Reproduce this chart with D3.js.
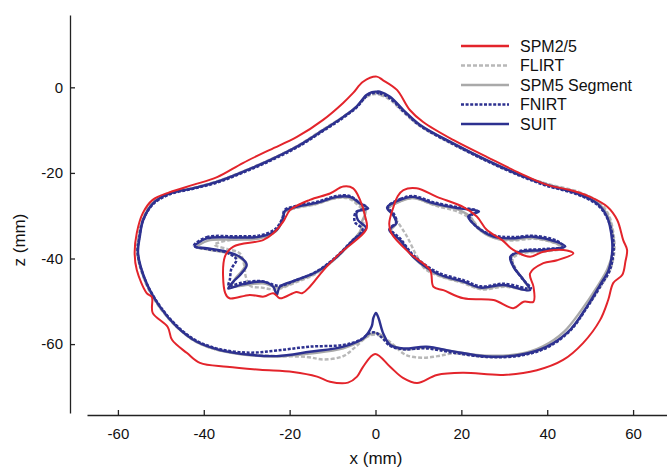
<!DOCTYPE html>
<html>
<head>
<meta charset="utf-8">
<script src="https://cdn.jsdelivr.net/npm/d3@7"></script>
<style>
body { margin: 0; background: #fff; }
text { font-family: "Liberation Sans", Arial, sans-serif; fill: #111; }
</style>
</head>
<body>
<script>
// tick labels
const xTicks = [-60, -40, -20, 0, 20, 40, 60];
const zTicks = [0, -20, -40, -60];
const seriesNames = ["SPM2/5", "FLIRT", "SPM5 Segment", "FNIRT", "SUIT"];

// outlines in mm, [x, z]
const spmOuter = [[0.3,2.5],[1.7,1.7],[5.0,-0.6],[8.0,-5.3],[11.1,-8.1],[18.1,-12.3],[26.0,-16.3],[33.7,-20.1],[40.0,-22.8],[45.3,-24.0],[50.0,-25.6],[54.0,-27.9],[56.3,-31.0],[57.7,-35.7],[58.6,-38.0],[58.2,-40.8],[57.5,-43.8],[55.4,-45.7],[54.2,-49.7],[52.3,-54.4],[48.4,-59.7],[43.7,-63.7],[37.6,-66.1],[29.7,-67.2],[20.4,-66.7],[14.3,-67.2],[9.7,-69.1],[6.4,-67.9],[3.4,-65.3],[-0.1,-62.3],[-2.9,-65.3],[-4.3,-67.6],[-6.4,-69.0],[-10.6,-68.8],[-13.6,-67.6],[-19.2,-66.5],[-26.9,-66.0],[-34.6,-65.3],[-40.9,-64.4],[-43.9,-62.1],[-47.4,-59.0],[-48.4,-56.0],[-51.9,-52.7],[-52.1,-49.0],[-53.3,-48.1],[-55.6,-42.7],[-56.1,-38.7],[-55.6,-34.0],[-54.2,-29.4],[-51.9,-26.3],[-47.9,-24.5],[-42.5,-22.8],[-36.9,-21.0],[-30.9,-17.7],[-24.6,-14.6],[-18.3,-11.6],[-12.2,-7.6],[-7.6,-3.7],[-5.2,-1.3],[-2.9,1.3]];
const spmLeft = [[-7.5,-23.2],[-5.2,-23.6],[-3.6,-26.3],[-2.4,-30.2],[-2.1,-33.1],[-8.3,-38.8],[-12.1,-42.7],[-15.3,-46.6],[-17.1,-48.1],[-18.4,-47.8],[-21.1,-49.0],[-22.3,-49.3],[-23.8,-48.1],[-26.0,-48.9],[-29.3,-48.5],[-34.0,-49.3],[-35.0,-48.1],[-35.1,-39.6],[-33.1,-37.2],[-26.2,-35.7],[-23.8,-34.1],[-21.5,-31.4],[-19.9,-28.7],[-15.3,-26.3],[-10.6,-24.8]];
const spmRight = [[6.5,-24.0],[9.6,-23.6],[14.3,-25.6],[20.5,-28.0],[23.6,-30.2],[25.9,-33.3],[29.5,-35.7],[32.1,-38.0],[36.0,-39.6],[39.1,-38.4],[43.8,-38.0],[46.1,-38.8],[42.3,-40.4],[39.1,-41.1],[36.0,-43.5],[36.8,-46.6],[36.8,-50.1],[34.5,-50.1],[32.1,-51.6],[27.5,-49.7],[20.5,-49.3],[15.8,-47.4],[13.5,-46.6],[12.7,-42.7],[8.0,-38.8],[3.7,-34.1],[3.2,-31.8],[4.2,-27.9],[5.2,-25.4]];

const flirtOuter = [[0,-1.6],[1.2,-1.8],[3.5,-3],[6.7,-6],[10.6,-9.2],[18.3,-13.4],[26,-17.2],[33.8,-20.6],[40.2,-22.6],[47.2,-24.4],[52,-26.8],[54.4,-30],[55.6,-35.5],[55.6,-38.8],[54.6,-42.8],[52.4,-46.6],[49,-51.8],[45,-57],[39.6,-60.8],[33.5,-62.6],[25.8,-63],[18.2,-62.2],[14.5,-62.8],[11,-63.2],[7,-62.5],[4,-60],[2,-58.5],[0,-57.8],[-2,-58.3],[-4.5,-60.5],[-7.5,-62.8],[-12,-63.6],[-16,-63],[-23,-62.8],[-29.3,-62.4],[-36.2,-61.5],[-41.7,-59.5],[-46.3,-56],[-50.3,-51.4],[-53.5,-45.8],[-55.5,-38.8],[-55.2,-34.9],[-54.3,-31],[-52,-27],[-48,-24.7],[-42.6,-23.5],[-37,-22],[-30.8,-19.6],[-24.6,-16.9],[-18.4,-13.8],[-12.3,-9.9],[-7.6,-6.9],[-4.5,-4.6],[-2.2,-2.3],[-0.9,-1.7]];
const flirtLeft = [[-37.5,-36.8],[-33,-35.5],[-27,-35.2],[-23.2,-33.6],[-21.7,-30.6],[-21.3,-29.2],[-18.5,-28.2],[-13.8,-27.3],[-9.2,-25.9],[-6.2,-26],[-4,-27.6],[-2.5,-29.5],[-2.8,-31.5],[-3.5,-33.5],[-5.6,-36.2],[-9.3,-40],[-14,-43.6],[-18.6,-45.6],[-23,-47.2],[-26.5,-46.8],[-29.2,-46.4],[-30.2,-44.3],[-30.6,-41.5],[-31.6,-38.8],[-34.5,-37.8]];
const flirtRight = [[3,-28.4],[6,-26.5],[9,-25.9],[13.8,-27.6],[19.5,-29.2],[22.5,-31],[24.5,-33.2],[28,-35.3],[31.6,-35.8],[37,-35.4],[42,-36.5],[43.6,-37.6],[39,-38.4],[34,-38.8],[32,-40],[32.6,-42.3],[34.8,-45.4],[35.8,-47.2],[30,-46.6],[24.6,-47.2],[20.6,-45.8],[14.6,-44],[11.5,-42.4],[9.6,-39.4],[7.3,-34.8],[5.2,-31.5],[4.2,-30]];

const segOuter = [[0,-1.2],[1,-1.2],[3.4,-2.4],[6.6,-5.5],[10.5,-9],[18.2,-13.2],[26,-17.1],[33.8,-20.5],[40,-22.7],[47,-24.6],[51.8,-27],[54.2,-30.2],[55.4,-35.6],[55.2,-38.8],[54,-42.5],[51.5,-46.8],[48,-52],[44,-57],[39,-60.5],[33.5,-62.3],[25.9,-62.7],[18.1,-61.7],[11.9,-60.8],[6.5,-61.2],[3.4,-60],[1.5,-58],[0,-57.4],[-1.5,-57.8],[-3,-59],[-7.5,-61],[-15.3,-62.2],[-23,-62.9],[-29.3,-62.6],[-36.2,-61.5],[-41.7,-59.5],[-46.3,-56],[-50.2,-51.4],[-53.4,-45.8],[-55.4,-38.8],[-55,-34.9],[-54.2,-31],[-51.9,-27.1],[-48,-24.8],[-42.5,-23.6],[-37,-22.1],[-30.8,-19.7],[-24.6,-17],[-18.4,-13.9],[-12.2,-10],[-7.5,-6.9],[-4.4,-4.5],[-2.1,-1.9],[-0.8,-1.2]];
const segLeft = [[-41.6,-37.4],[-39,-35.8],[-32.4,-35.6],[-27,-35.3],[-23.2,-33.6],[-21.6,-30.7],[-21.2,-29.2],[-18.5,-28.1],[-13.8,-27.2],[-9.1,-25.8],[-6,-25.8],[-3.7,-27.3],[-2.3,-29],[-3.2,-31.5],[-3.4,-33.3],[-5.5,-36],[-9.2,-39.9],[-13.9,-43.4],[-18.5,-45.3],[-22.6,-46.8],[-26.3,-45.8],[-30.8,-46.3],[-33.5,-46.5],[-32.6,-44.6],[-31.2,-43],[-30.2,-41.3],[-31.5,-39.9],[-34.6,-38.7],[-39,-37.9]];
const segRight = [[3,-28.3],[5.9,-26.6],[8.8,-25.9],[13.7,-27.4],[19.6,-28.7],[22.3,-30.5],[23.8,-32.9],[27.6,-35.2],[31.5,-35.6],[36.8,-35.2],[42,-36.4],[43.8,-37.5],[39,-38.2],[33.8,-38.6],[31.6,-39.8],[32.3,-42.1],[34.6,-45.2],[35.8,-47.3],[29.9,-46.4],[24.5,-47],[20.6,-45.6],[14.4,-43.8],[9,-39.9],[6,-36],[3.6,-33.4],[4.9,-31.8],[4.2,-29.9]];

const fnirtOuter = [[0,-1.3],[1,-1.4],[3.4,-2.6],[6.5,-5.6],[10.4,-9.0],[18.1,-13.3],[25.9,-17.2],[33.7,-20.7],[39.9,-23.0],[46.9,-25.0],[51.6,-27.4],[54,-30.6],[55.4,-35.7],[55.4,-38.8],[54.6,-42.7],[52.5,-46.3],[49.3,-51.4],[45.4,-56.8],[40,-60.8],[33.7,-62.7],[25.9,-63.0],[18.1,-62],[11.9,-61],[6.5,-61.2],[3.4,-60.4],[1.5,-58.5],[0,-57.3],[-1.5,-57.5],[-3.5,-59],[-7.5,-60.2],[-15.3,-60.6],[-23,-61.5],[-29.3,-62],[-36.2,-61.2],[-41.7,-59.2],[-46.3,-55.7],[-50.2,-51.1],[-53.4,-45.6],[-55.4,-38.8],[-55,-34.9],[-54.2,-31.2],[-51.8,-27.3],[-47.9,-25],[-42.5,-23.7],[-37,-22.3],[-30.8,-19.9],[-24.6,-17.2],[-18.4,-14.1],[-12.2,-10.2],[-7.5,-7.1],[-4.4,-4.7],[-2.1,-2.1],[-0.8,-1.4]];
const fnirtLeft = [[-42.3,-37.0],[-39.3,-35.0],[-32.4,-34.8],[-27,-34.6],[-23.2,-33],[-21.6,-30.3],[-21.2,-28.7],[-18.5,-27.7],[-13.8,-26.8],[-9.1,-25.4],[-6,-25.4],[-3.8,-26.9],[-2,-28.1],[-4.6,-29.2],[-4.8,-31.5],[-3,-33.2],[-5.6,-36],[-9.4,-39.8],[-14,-43.2],[-18.6,-45.1],[-22.5,-46.4],[-26.4,-45.3],[-30.8,-45.6],[-34.2,-46.3],[-33.9,-44.8],[-33.6,-42.5],[-32.4,-40.2],[-34.8,-38.6],[-39.3,-37.8]];
const fnirtRight = [[2.9,-27.9],[5.8,-26.1],[8.8,-25.4],[13.7,-26.9],[19.7,-28.1],[23.6,-28.9],[21.9,-30.4],[23.8,-32.8],[27.6,-34.6],[31.5,-35],[36.9,-34.7],[42.3,-35.9],[43.8,-37.2],[39,-37.8],[33.8,-38.2],[31.6,-39.5],[32.3,-42],[34.6,-45.2],[36.2,-47],[29.9,-45.9],[24.5,-46.5],[20.6,-45.1],[14.4,-43.2],[8.9,-39.3],[5.8,-35.4],[3.4,-33],[4.9,-31.5],[4.3,-29.6]];

const suitOuter = [[0.3,-1.0],[1.0,-1.0],[3.4,-2.2],[6.5,-5.3],[10.4,-8.8],[18.1,-13.1],[25.9,-17.0],[33.7,-20.5],[39.9,-22.8],[46.9,-24.8],[51.6,-27.1],[53.9,-30.2],[55.1,-35.7],[55.1,-38.8],[54.3,-42.7],[52.3,-46.2],[49.2,-51.3],[45.3,-56.7],[39.9,-60.6],[33.7,-62.5],[25.9,-62.9],[18.1,-61.7],[11.9,-60.6],[6.5,-61.0],[3.4,-60.2],[1.8,-57.5],[0.7,-53.9],[0.1,-52.7],[-0.5,-53.9],[-0.9,-55.9],[-2.8,-58.6],[-7.5,-60.6],[-15.3,-61.8],[-23.0,-62.8],[-29.3,-62.5],[-36.2,-61.4],[-41.7,-59.4],[-46.3,-55.9],[-50.2,-51.3],[-53.3,-45.8],[-55.3,-38.8],[-54.9,-34.9],[-54.1,-31.0],[-51.8,-27.1],[-47.9,-24.8],[-42.5,-23.6],[-37.0,-22.1],[-30.8,-19.7],[-24.6,-17.0],[-18.4,-13.9],[-12.2,-10.0],[-7.5,-6.9],[-4.4,-4.5],[-2.1,-1.8],[-0.8,-1.1]];
const suitLeft = [[-42.1,-37.2],[-39.3,-35.3],[-32.4,-35.1],[-26.9,-34.9],[-23.0,-33.3],[-21.5,-30.5],[-21.1,-28.9],[-18.4,-27.9],[-13.7,-27.0],[-9.0,-25.6],[-5.9,-25.6],[-3.6,-27.1],[-1.7,-28.3],[-4.3,-29.1],[-4.1,-31.0],[-2.2,-32.9],[-5.2,-35.7],[-9.0,-39.6],[-13.7,-43.1],[-18.4,-45.0],[-22.3,-46.6],[-23.0,-48.5],[-23.8,-46.6],[-26.2,-45.4],[-30.8,-46.0],[-34.3,-47.0],[-33.1,-45.4],[-31.6,-43.9],[-30.0,-41.5],[-31.6,-39.6],[-34.7,-38.4],[-39.3,-37.6]];
const suitRight = [[2.7,-28.1],[5.7,-26.3],[8.7,-25.6],[13.6,-27.1],[19.6,-28.3],[24.1,-29.0],[21.6,-30.2],[23.6,-32.6],[27.5,-34.9],[31.4,-35.3],[36.8,-34.9],[42.2,-36.1],[44.2,-37.2],[39.1,-38.0],[33.7,-38.4],[31.4,-39.6],[32.1,-41.9],[34.5,-45.0],[36.0,-47.4],[29.8,-46.2],[24.4,-46.8],[20.5,-45.4],[14.3,-43.5],[8.8,-39.6],[5.7,-35.7],[3.2,-33.3],[4.8,-31.8],[4.1,-29.8]];

const svg = d3.select("body").append("svg").attr("width", 667).attr("height", 467);

const x = d3.scaleLinear().domain([-67.2, 67.9]).range([87, 667]);
const z = d3.scaleLinear().domain([16.9, -76.1]).range([15, 413]);

// axes, labels with a plain hyphen like the original
const fmt = d => String(d);
const xAxis = svg.append("g").attr("transform", "translate(0,415)")
  .call(d3.axisBottom(x).tickValues(xTicks).tickFormat(fmt).tickSizeInner(-5).tickSizeOuter(0).tickPadding(13));
const zAxis = svg.append("g").attr("transform", "translate(70,0)")
  .call(d3.axisLeft(z).tickValues(zTicks).tickFormat(fmt).tickSizeInner(-5).tickSizeOuter(0).tickPadding(7));
[xAxis, zAxis].forEach(a => {
  a.selectAll("path, line").attr("stroke", "#222").attr("stroke-width", 1.3);
  a.selectAll("text").attr("font-size", 15).attr("font-family", "Liberation Sans, Arial, sans-serif").attr("fill", "#111");
});

svg.append("text").text("x (mm)").attr("x", 376).attr("y", 464).attr("text-anchor", "middle").attr("font-size", 17);
svg.append("text").text("z (mm)").attr("transform", "translate(25,240) rotate(-90)").attr("text-anchor", "middle").attr("font-size", 17);

const line = d3.line().x(d => x(d[0])).y(d => z(d[1])).curve(d3.curveCatmullRomClosed.alpha(0.5));

// series styles
const colors = ["#e3242b", "#b8b8b8", "#a9a9a9", "#2d3190", "#2d3190"];
const dashes = [null, "4,2", null, "3,1.6", null];
const widths = [2, 2.4, 2.4, 2.5, 2.4];
const outlines = [
  [spmOuter, spmLeft, spmRight],
  [flirtOuter, flirtLeft, flirtRight],
  [segOuter, segLeft, segRight],
  [fnirtOuter, fnirtLeft, fnirtRight],
  [suitOuter, suitLeft, suitRight]
];
const drawOrder = [1, 2, 3, 4, 0];

drawOrder.forEach(i => {
  svg.append("g").selectAll("path").data(outlines[i]).join("path")
    .attr("d", line)
    .attr("fill", "none")
    .attr("stroke", colors[i])
    .attr("stroke-width", widths[i])
    .attr("stroke-dasharray", dashes[i])
    .attr("stroke-linejoin", "round");
});

// legend
const legend = svg.append("g");
seriesNames.forEach((name, i) => {
  const y = 46 + i * 19.5;
  legend.append("line").attr("x1", 461).attr("x2", 509).attr("y1", y).attr("y2", y)
    .attr("stroke", colors[i]).attr("stroke-width", 2.6).attr("stroke-dasharray", dashes[i]);
  legend.append("text").text(name).attr("x", 520).attr("y", y + 5.5).attr("font-size", 16);
});
</script>
</body>
</html>
